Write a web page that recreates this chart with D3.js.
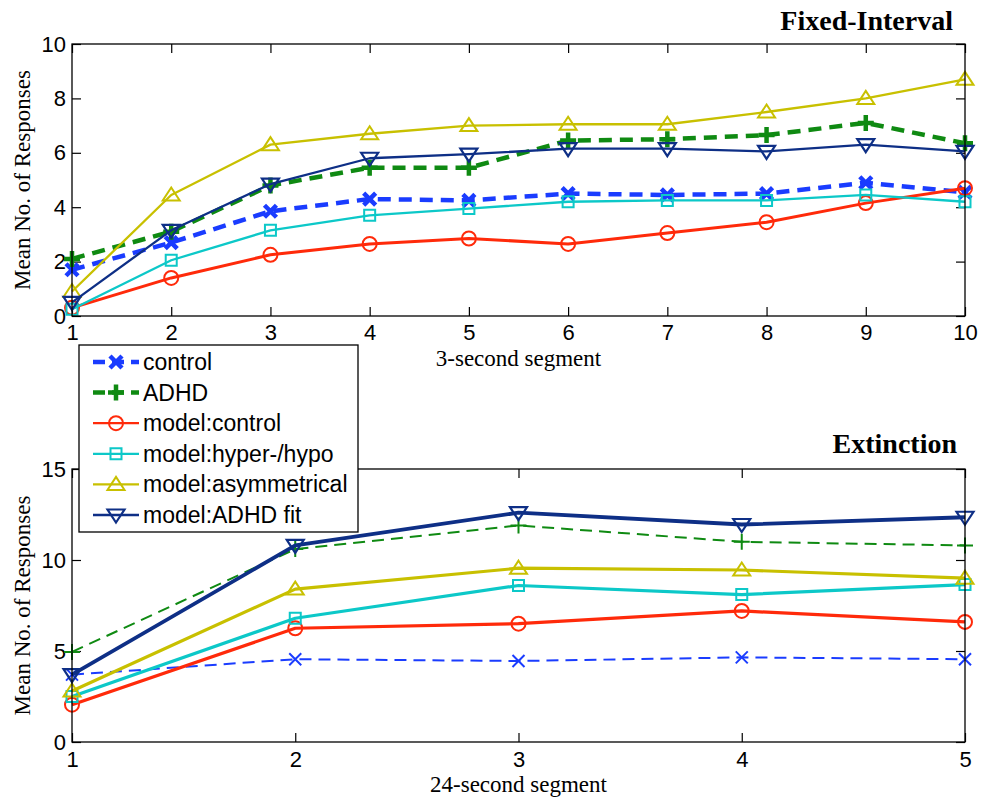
<!DOCTYPE html>
<html>
<head>
<meta charset="utf-8">
<script src="https://cdn.jsdelivr.net/npm/d3@7"></script>
<style>
  html, body { margin: 0; padding: 0; background: #fff; }
  svg { display: block; }
  .tick text { font-family: "Liberation Sans", Arial, sans-serif; font-size: 22px; fill: #000; }
  .tick line { stroke: #000; stroke-width: 1.2; }
</style>
</head>
<body>
<svg id="chart" width="982" height="801"></svg>
<script>
// ---- Fixed-Interval panel (3-second segments) ----
const fiSegments = [1, 2, 3, 4, 5, 6, 7, 8, 9, 10];
const fiControl = [1.7, 2.7, 3.85, 4.3, 4.25, 4.5, 4.45, 4.5, 4.9, 4.55];
const fiADHD = [2.1, 3.1, 4.8, 5.45, 5.45, 6.45, 6.5, 6.65, 7.1, 6.35];
const fiModelControl = [0.3, 1.4, 2.25, 2.65, 2.85, 2.65, 3.05, 3.45, 4.15, 4.7];
const fiModelHyperHypo = [0.25, 2.05, 3.15, 3.7, 3.95, 4.2, 4.25, 4.25, 4.45, 4.2];
const fiModelAsym = [0.9, 4.45, 6.3, 6.7, 7.0, 7.05, 7.05, 7.5, 8.0, 8.7];
const fiModelADHDFit = [0.5, 3.15, 4.85, 5.8, 5.95, 6.15, 6.15, 6.05, 6.3, 6.05];
const fiYTicks = [0, 2, 4, 6, 8, 10];

// ---- Extinction panel (24-second segments) ----
const extSegments = [1, 2, 3, 4, 5];
const extControl = [3.7, 4.55, 4.45, 4.65, 4.55];
const extADHD = [4.95, 10.6, 11.9, 11.0, 10.8];
const extModelControl = [2.05, 6.25, 6.5, 7.2, 6.6];
const extModelHyperHypo = [2.5, 6.8, 8.6, 8.1, 8.65];
const extModelAsym = [2.8, 8.4, 9.55, 9.45, 9.0];
const extModelADHDFit = [3.7, 10.8, 12.6, 11.95, 12.35];
const extYTicks = [0, 5, 10, 15];

const seriesNames = ["control", "ADHD", "model:control", "model:hyper-/hypo", "model:asymmetrical", "model:ADHD fit"];
const seriesColors = ["#1a3cff", "#0f8a12", "#ff2a0a", "#0cc8c8", "#c8c000", "#0e2f86"];
const seriesMarkers = ["x", "plus", "circle", "square", "triUp", "triDown"];

const svg = d3.select("#chart");
const serif = '"Liberation Serif", "Times New Roman", serif';
const sans = '"Liberation Sans", Arial, sans-serif';

// Marker path generators (centred on the data point)
function markerPath(type) {
  switch (type) {
    case "x": return "M-6,-6L6,6M-6,6L6,-6";
    case "plus": return "M-8,0L8,0M0,-8L0,8";
    case "circle": return "M7,0A7,7 0 1,1 -7,0A7,7 0 1,1 7,0Z";
    case "square": return "M-5.5,-5.5H5.5V5.5H-5.5Z";
    case "triUp": return "M0,-7.5L8.5,5.5L-8.5,5.5Z";
    case "triDown": return "M0,7.5L8.5,-5.5L-8.5,-5.5Z";
  }
}

function drawPanel(cfg) {
  const g = svg.append("g");
  const x = d3.scaleLinear().domain(cfg.xDomain).range([cfg.left, cfg.right]);
  const y = d3.scaleLinear().domain(cfg.yDomain).range([cfg.bottom, cfg.top]);
  const tick = 9;

  // axes with inward ticks on all four sides
  const bottomAxis = d3.axisBottom(x).tickValues(cfg.xTicks).tickFormat(d3.format("d"))
    .tickSizeInner(-tick).tickSizeOuter(0).tickPadding(cfg.xPad);
  const topAxis = d3.axisTop(x).tickValues(cfg.xTicks).tickFormat("")
    .tickSizeInner(-tick).tickSizeOuter(0);
  const leftAxis = d3.axisLeft(y).tickValues(cfg.yTicks).tickFormat(d3.format("d"))
    .tickSizeInner(-tick).tickSizeOuter(0).tickPadding(6);
  const rightAxis = d3.axisRight(y).tickValues(cfg.yTicks).tickFormat("")
    .tickSizeInner(-tick).tickSizeOuter(0);

  const ax = g.append("g");
  ax.append("g").attr("transform", `translate(0,${cfg.bottom})`).call(bottomAxis);
  ax.append("g").attr("transform", `translate(0,${cfg.top})`).call(topAxis);
  ax.append("g").attr("transform", `translate(${cfg.left},0)`).call(leftAxis);
  ax.append("g").attr("transform", `translate(${cfg.right},0)`).call(rightAxis);
  ax.selectAll(".domain").remove();
  ax.selectAll(".tick text").attr("font-family", null).attr("font-size", null);

  const line = d3.line().x((d, i) => x(cfg.segments[i])).y(d => y(d));

  cfg.series.forEach((vals, k) => {
    const st = cfg.styles[k];
    g.append("path")
      .attr("d", line(vals))
      .attr("fill", "none")
      .attr("stroke", seriesColors[k])
      .attr("stroke-width", st.width)
      .attr("stroke-dasharray", st.dash || null)
      .attr("stroke-linejoin", "round");
    g.selectAll(null).data(vals).enter().append("path")
      .attr("transform", (d, i) => `translate(${x(cfg.segments[i])},${y(d)})`)
      .attr("d", markerPath(seriesMarkers[k]))
      .attr("fill", "none")
      .attr("stroke", seriesColors[k])
      .attr("stroke-width", st.markerWidth);
  });

  // plot frame on top of the data
  g.append("rect")
    .attr("x", cfg.left).attr("y", cfg.top)
    .attr("width", cfg.right - cfg.left).attr("height", cfg.bottom - cfg.top)
    .attr("fill", "none").attr("stroke", "#000").attr("stroke-width", 1.3);

  // titles and axis labels
  g.append("text")
    .attr("x", cfg.titleX).attr("y", cfg.titleY)
    .attr("text-anchor", "end")
    .attr("font-family", serif).attr("font-weight", "bold").attr("font-size", 28)
    .text(cfg.title);
  g.append("text")
    .attr("x", (cfg.left + cfg.right) / 2).attr("y", cfg.xLabelY)
    .attr("text-anchor", "middle")
    .attr("font-family", serif).attr("font-size", 23)
    .text(cfg.xLabel);
  g.append("text")
    .attr("transform", `translate(30,${(cfg.top + cfg.bottom) / 2}) rotate(-90)`)
    .attr("text-anchor", "middle")
    .attr("font-family", serif).attr("font-size", 23)
    .text("Mean No. of Responses");
}

drawPanel({
  left: 72, right: 965, top: 44, bottom: 316,
  xDomain: [1, 10], yDomain: [0, 10],
  xTicks: fiSegments, yTicks: fiYTicks, segments: fiSegments, xPad: 8,
  series: [fiControl, fiADHD, fiModelControl, fiModelHyperHypo, fiModelAsym, fiModelADHDFit],
  styles: [
    { width: 4.5, dash: "13,8", markerWidth: 4.5 },
    { width: 4.5, dash: "13,8", markerWidth: 4.5 },
    { width: 3, markerWidth: 2 },
    { width: 2.3, markerWidth: 2 },
    { width: 2.3, markerWidth: 2 },
    { width: 2.3, markerWidth: 2.2 }
  ],
  title: "Fixed-Interval", titleX: 953, titleY: 30,
  xLabel: "3-second segment", xLabelY: 366
});

drawPanel({
  left: 72, right: 965, top: 469, bottom: 742,
  xDomain: [1, 5], yDomain: [0, 15],
  xTicks: extSegments, yTicks: extYTicks, segments: extSegments, xPad: 9,
  series: [extControl, extADHD, extModelControl, extModelHyperHypo, extModelAsym, extModelADHDFit],
  styles: [
    { width: 2, dash: "12,7", markerWidth: 2 },
    { width: 2, dash: "12,7", markerWidth: 2 },
    { width: 3.2, markerWidth: 2 },
    { width: 3.2, markerWidth: 2 },
    { width: 3.2, markerWidth: 2 },
    { width: 3.8, markerWidth: 2.2 }
  ],
  title: "Extinction", titleX: 957, titleY: 453,
  xLabel: "24-second segment", xLabelY: 792
});

// ---- legend ----
const legendStyles = [
  { width: 4.5, dash: "12,7", markerWidth: 4.5 },
  { width: 4.5, dash: "12,7", markerWidth: 4.5 },
  { width: 2.3, markerWidth: 2 },
  { width: 2.3, markerWidth: 2 },
  { width: 2.3, markerWidth: 2 },
  { width: 2.3, markerWidth: 2.2 }
];
const legend = svg.append("g");
legend.append("rect")
  .attr("x", 79).attr("y", 345).attr("width", 279).attr("height", 187)
  .attr("fill", "#fff").attr("stroke", "#000").attr("stroke-width", 1.3);
const rowY = d3.scalePoint().domain(seriesNames).range([362, 515]);
seriesNames.forEach((name, k) => {
  const cy = rowY(name);
  const st = legendStyles[k];
  legend.append("line")
    .attr("x1", 93).attr("x2", 139).attr("y1", cy).attr("y2", cy)
    .attr("stroke", seriesColors[k]).attr("stroke-width", st.width)
    .attr("stroke-dasharray", st.dash || null);
  legend.append("path")
    .attr("transform", `translate(116,${cy})`)
    .attr("d", markerPath(seriesMarkers[k]))
    .attr("fill", "none").attr("stroke", seriesColors[k]).attr("stroke-width", st.markerWidth);
  legend.append("text")
    .attr("x", 143).attr("y", cy + 8)
    .attr("font-family", sans).attr("font-size", 23)
    .text(name);
});
</script>
</body>
</html>
